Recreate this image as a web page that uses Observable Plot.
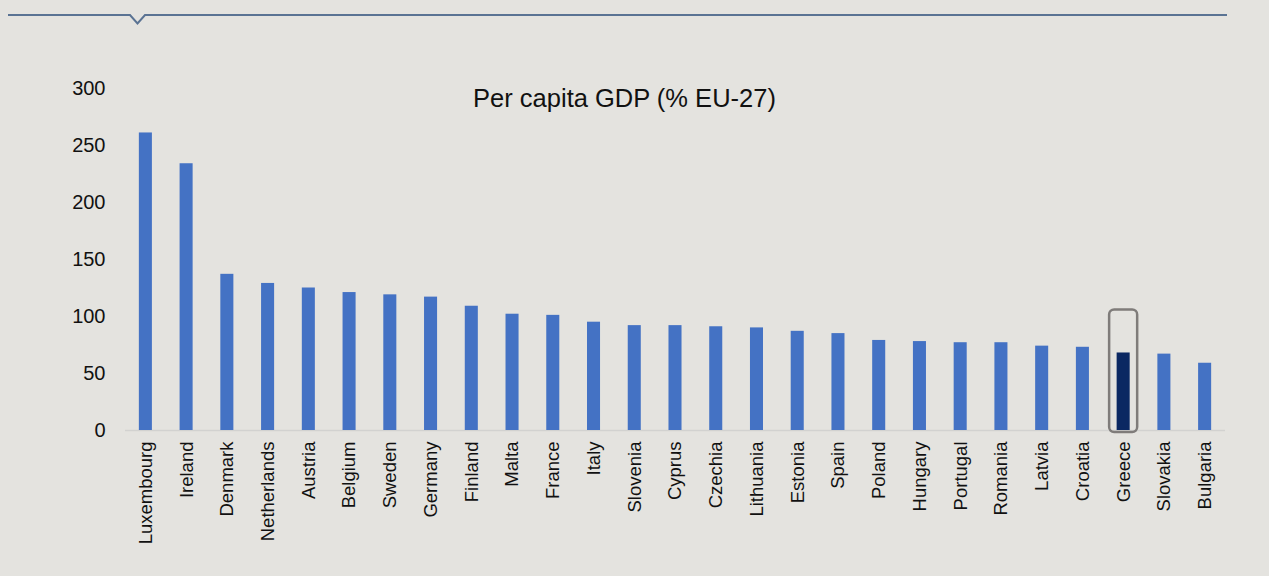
<!DOCTYPE html>
<html>
<head>
<meta charset="utf-8">
<script src="https://cdn.jsdelivr.net/npm/d3@7"></script>
<script src="https://cdn.jsdelivr.net/npm/@observablehq/plot@0.6"></script>
<style>
  html, body { margin: 0; padding: 0; background: #e4e3df; }
  #chart { width: 1269px; height: 576px; overflow: hidden; }
</style>
</head>
<body>
<div id="chart"></div>
<script>
const countries = ["Luxembourg","Ireland","Denmark","Netherlands","Austria","Belgium","Sweden","Germany","Finland","Malta","France","Italy","Slovenia","Cyprus","Czechia","Lithuania","Estonia","Spain","Poland","Hungary","Portugal","Romania","Latvia","Croatia","Greece","Slovakia","Bulgaria"];
const gdpValues = [261,234,137,129,125,121,119,117,109,102,101,95,92,92,91,90,87,85,79,78,77,77,74,73,68,67,59];
const yTicks = [0,50,100,150,200,250,300];
const highlightCountry = "Greece";
const chartTitle = "Per capita GDP (% EU-27)";

const data = countries.map((c, i) => ({country: c, value: gdpValues[i]}));
const highlighted = data.filter(d => d.country === highlightCountry);

const plot = Plot.plot({
  width: 1269,
  height: 576,
  marginLeft: 125,
  marginRight: 44,
  marginTop: 88,
  marginBottom: 146,
  style: {background: "#e4e3df", fontFamily: "'Liberation Sans', Arial, sans-serif", color: "#111"},
  x: {domain: countries, paddingInner: 0.68, paddingOuter: 0.34, round: false, label: null},
  y: {domain: [0, 300], label: null},
  marks: [
    Plot.ruleY([0], {stroke: "#d2d2d0", strokeWidth: 1.5}),
    Plot.barY(data, {x: "country", y: "value", fill: d => d.country === highlightCountry ? "#0b2862" : "#4472c4"}),
    Plot.barY(highlighted, {x: "country", y: "value", fill: "none", stroke: "#7f7c7a", strokeWidth: 2.5, rx: 5, insetLeft: -7.5, insetRight: -7.5, insetTop: -43, insetBottom: -2}),
    Plot.axisY({ticks: yTicks, tickSize: 0, tickPadding: 20, fontSize: 20, label: null}),
    Plot.axisX({tickSize: 0, tickPadding: 11, tickRotate: -90, fontSize: 18.5, label: null}),
    Plot.text([chartTitle], {frameAnchor: "top", dx: -51, dy: 0, fontSize: 25.5, fill: "#111"})
  ]
});

document.getElementById("chart").appendChild(plot);

// decorative header line with notch
d3.select(plot).append("path")
  .attr("d", "M8,15 L130,15 L137.5,23.5 L145,15 L1227,15")
  .attr("fill", "none")
  .attr("stroke", "#5a7393")
  .attr("stroke-width", 2);
</script>
</body>
</html>
